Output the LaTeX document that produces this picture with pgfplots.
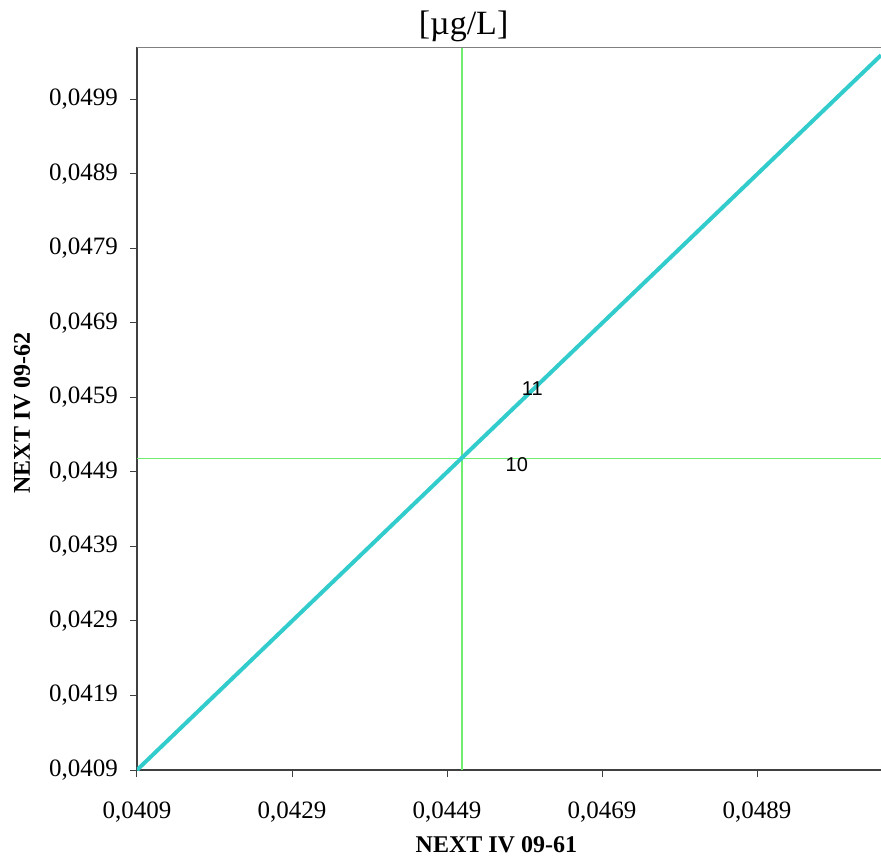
\documentclass[border=0pt]{standalone}
\usepackage{pgfplots}
\pgfplotsset{compat=1.18}
\usepackage{fontspec}
\setmainfont{Liberation Serif}
\newfontfamily\labfont{Liberation Sans}
\definecolor{lineC}{HTML}{33CCCC}
\definecolor{meanC}{HTML}{70EE70}
\begin{document}
\begin{tikzpicture}
\useasboundingbox (-68.5pt,-45.5pt) rectangle (372pt,385pt);
\begin{axis}[
  name=ax,
  at={(0,0)}, anchor=south west,
  scale only axis, width=372pt, height=361.5pt,
  xmin=0.0409, xmax=0.0505, ymin=0.0409, ymax=0.0506,
  scaled ticks=false,
  axis x line*=bottom, axis y line*=left,
  axis line style={-, draw=black!75, line width=0.6pt},
  tick align=outside, major tick length=3.5pt,
  tick style={draw=black!75, line width=0.5pt},
  xtick pos=bottom, ytick pos=left,
  minor tick num=0,
  xtick={0.0409,0.0429,0.0449,0.0469,0.0489},
  xticklabels={{0,0409},{0,0429},{0,0449},{0,0469},{0,0489}},
  ytick={0.0409,0.0419,0.0429,0.0439,0.0449,0.0459,0.0469,0.0479,0.0489,0.0499},
  yticklabels={{0,0409},{0,0419},{0,0429},{0,0439},{0,0449},{0,0459},{0,0469},{0,0479},{0,0489},{0,0499}},
  /pgf/number format/assume math mode=true,
  every tick label/.append style={font=\fontsize{12.5}{14}\selectfont},
  xticklabel style={yshift=-9pt},
  yticklabel style={xshift=-2.5pt},
  xlabel={NEXT IV 09-61},
  ylabel={NEXT IV 09-62},
  xlabel style={font=\fontsize{12}{14}\selectfont\bfseries, anchor=center, at={(axis description cs:0.483,-0.1037)}},
  ylabel style={font=\fontsize{12}{14}\selectfont\bfseries, anchor=center, at={(axis description cs:-0.1546,0.494)}},
]
\addplot[meanC, line width=0.8pt] coordinates {(0.04509,0.0409) (0.04509,0.0506)};
\addplot[meanC, line width=0.8pt] coordinates {(0.0409,0.04508) (0.0505,0.04508)};
\addplot[lineC, line width=2pt] coordinates {(0.0409,0.0409) (0.0505,0.05049)};
\node[font=\labfont\fontsize{10}{11}\selectfont] at (axis cs:0.0458,0.0450) {10};
\node[font=\labfont\fontsize{10}{11}\selectfont] at (axis cs:0.0460,0.04602) {11};
\draw[black!50, line width=1pt] (rel axis cs:0,1) -- (rel axis cs:1,1);
\end{axis}
\node[font=\fontsize{17}{20}\selectfont, anchor=center] at ([shift={(163.3pt,10.5pt)}]ax.north west) {[\textmu g/L]};
\end{tikzpicture}
\end{document}
